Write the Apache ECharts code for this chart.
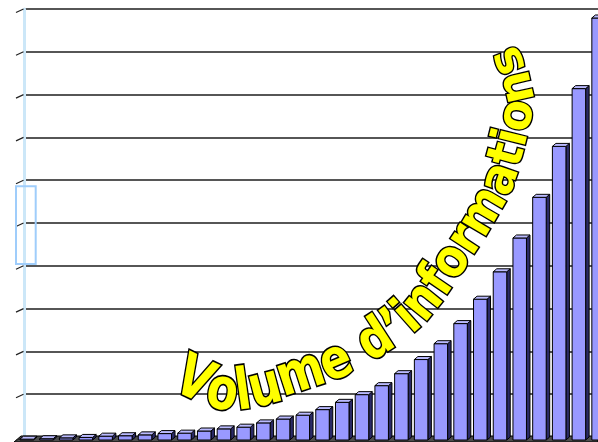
<!DOCTYPE html>
<html>
<head>
<meta charset="utf-8">
<script src="https://cdn.jsdelivr.net/npm/echarts@6/dist/echarts.min.js"></script>
<style>
  html, body { margin: 0; padding: 0; background: #ffffff; }
  #chart { width: 598px; height: 442px; }
</style>
</head>
<body>
<div id="chart"></div>
<script>
// Thirty successive periods (unlabelled on the chart)
const periods = ['1', '2', '3', '4', '5', '6', '7', '8', '9', '10',
                 '11', '12', '13', '14', '15', '16', '17', '18', '19', '20',
                 '21', '22', '23', '24', '25', '26', '27', '28', '29', '30'];

// Volume of information per period
const volumes = [0.2, 0.3, 0.5, 0.6, 0.9, 1.0, 1.2, 1.5, 1.6, 2.1,
                 2.6, 3.0, 4.0, 4.9, 5.8, 7.1, 8.8, 10.6, 12.7, 15.5,
                 18.8, 22.5, 27.2, 32.9, 39.3, 47.2, 56.7, 68.6, 82.1, 98.6];

// Value-axis ticks (no labels are drawn)
const yTicks = [0, 10, 20, 30, 40, 50, 60, 70, 80, 90, 100];

const title = 'Volume d\u2019informations';

// ---- Layout ----
const chartWidth = 598;
const columnsLeft = 17.1;     // left edge of the first column slot
const columnPitch = 19.72;    // width of one column slot; the last column runs off the right edge
const xMax = -0.5 + (chartWidth - columnsLeft) / columnPitch;

// ---- Arched title: characters laid out along a smooth curve ----
const titleSize = 44;
const titleFont = 'bold ' + titleSize + 'px "DejaVu Sans", Verdana, sans-serif';
const titleCurve = [[176, 379], [222, 398], [264, 394], [297, 381], [336, 368],
                    [376, 347], [420, 313], [461, 256], [490, 210], [506, 178],
                    [523, 111], [522, 85], [511, 55]];

function sampleCurve(pts, steps) {
  const out = [];
  const n = pts.length;
  for (let i = 0; i < n - 1; i++) {
    const p0 = pts[Math.max(i - 1, 0)], p1 = pts[i], p2 = pts[i + 1], p3 = pts[Math.min(i + 2, n - 1)];
    for (let k = 0; k < steps; k++) {
      const t = k / steps, t2 = t * t, t3 = t2 * t;
      const f = (a, b, c, d) => 0.5 * ((2 * b) + (-a + c) * t + (2 * a - 5 * b + 4 * c - d) * t2 + (-a + 3 * b - 3 * c + d) * t3);
      out.push([f(p0[0], p1[0], p2[0], p3[0]), f(p0[1], p1[1], p2[1], p3[1])]);
    }
  }
  out.push(pts[n - 1]);
  return out;
}

function buildTitle() {
  const poly = sampleCurve(titleCurve, 40);
  const cum = [0];
  for (let i = 1; i < poly.length; i++) {
    cum.push(cum[i - 1] + Math.hypot(poly[i][0] - poly[i - 1][0], poly[i][1] - poly[i - 1][1]));
  }
  const total = cum[cum.length - 1];
  function at(s) {
    if (s >= total) {
      const a = poly[poly.length - 2], b = poly[poly.length - 1];
      const th = Math.atan2(b[1] - a[1], b[0] - a[0]);
      const e = s - total;
      return { p: [b[0] + Math.cos(th) * e, b[1] + Math.sin(th) * e], th: th };
    }
    let i = 1;
    while (i < cum.length - 1 && cum[i] < s) i++;
    const a = poly[i - 1], b = poly[i];
    const seg = cum[i] - cum[i - 1] || 1;
    const u = (s - cum[i - 1]) / seg;
    return { p: [a[0] + (b[0] - a[0]) * u, a[1] + (b[1] - a[1]) * u], th: Math.atan2(b[1] - a[1], b[0] - a[0]) };
  }
  const ctx = document.createElement('canvas').getContext('2d');
  ctx.font = titleFont;
  const full = ctx.measureText(title).width;
  const items = [];
  let s = 0;
  for (const ch of title) {
    const w = ctx.measureText(ch).width;
    if (ch !== ' ') {
      const r = at(s + w / 2);
      // glyphs are stretched taller at the start of the arch
      const stretch = 1.34 - 0.28 * ((s + w / 2) / full);
      const lift = 0.073 * titleSize * stretch;
      const up = [Math.sin(r.th), -Math.cos(r.th)];
      items.push({
        type: 'text',
        x: r.p[0] + up[0] * lift,
        y: r.p[1] + up[1] * lift,
        rotation: -r.th,
        scaleX: 1.03,
        scaleY: stretch,
        z: 100,
        style: {
          text: ch,
          font: titleFont,
          fill: '#ffff00',
          stroke: '#000000',
          lineWidth: 2.6,
          lineJoin: 'round',
          align: 'center',
          verticalAlign: 'middle'
        }
      });
    }
    s += w;
  }
  return items;
}

// ---- 3D-looking columns ----
function renderColumn(params, api) {
  const v = api.value(1);
  const top = api.coord([api.value(0), v]);
  const base = api.coord([api.value(0), 0]);
  const band = api.size([1, 0])[0];
  const w = band * 0.685;
  const dx = 3.5, dy = 3;
  const xl = top[0] - 7, xr = xl + w;
  const yt = top[1] + dy, yb = base[1] + dy;
  const edge = { stroke: '#000000', lineWidth: 1 };
  return {
    type: 'group',
    children: [
      { type: 'polygon', shape: { points: [[xr, yt], [xr + dx, yt - dy], [xr + dx, yb - dy], [xr, yb]] },
        style: Object.assign({ fill: '#2a2a66' }, edge) },
      { type: 'rect', shape: { x: xl, y: yt, width: w, height: yb - yt },
        style: Object.assign({ fill: '#9999ff' }, edge) },
      { type: 'polygon', shape: { points: [[xl, yt], [xl + dx, yt - dy], [xr + dx, yt - dy], [xr, yt]] },
        style: Object.assign({ fill: '#babaff' }, edge) }
    ]
  };
}

// Slanted tick marks on the side wall
function renderTick(params, api) {
  const p = api.coord([0, api.value(1)]);
  return {
    type: 'line',
    shape: { x1: p[0] - 8, y1: p[1] + 3.5, x2: p[0] - 0.5, y2: p[1] },
    style: { stroke: '#222222', lineWidth: 1.2 }
  };
}

const chart = echarts.init(document.getElementById('chart'), null, { renderer: 'canvas' });

chart.setOption({
  animation: false,
  backgroundColor: '#ffffff',
  grid: [
    { left: 24, right: 0, top: 9, bottom: 5 },
    { left: columnsLeft, right: 0, top: 9, bottom: 5 }
  ],
  xAxis: [
    { gridIndex: 0, type: 'value', min: 0, max: 1, show: false },
    { gridIndex: 1, type: 'value', min: -0.5, max: xMax, show: false, splitLine: { show: false } }
  ],
  yAxis: [
    {
      gridIndex: 0, type: 'value', min: 0, max: 100, interval: 10,
      axisLine: { show: true, lineStyle: { color: '#cce7f8', width: 3 } },
      axisTick: { show: false },
      axisLabel: { show: false },
      splitLine: { show: true, lineStyle: { color: '#1e1e1e', width: 1.5 } }
    },
    { gridIndex: 1, type: 'value', min: 0, max: 100, interval: 10, show: false, splitLine: { show: false } }
  ],
  graphic: [
    {
      type: 'polygon', z: 1,
      shape: { points: [[14, 442], [21, 436], [598, 436], [598, 442]] },
      style: { fill: '#4d4d4d', stroke: '#000000', lineWidth: 1 }
    },
    {
      type: 'rect', z: 10,
      shape: { x: 16, y: 186.3, width: 19.7, height: 77.7 },
      style: { fill: 'none', stroke: '#9fcdfb', lineWidth: 2 }
    }
  ].concat(buildTitle()),
  series: [
    {
      type: 'custom', xAxisIndex: 0, yAxisIndex: 0,
      renderItem: renderTick,
      data: yTicks.map(v => [0, v]),
      silent: true, z: 3
    },
    {
      type: 'custom', name: 'Volume', xAxisIndex: 1, yAxisIndex: 1,
      renderItem: renderColumn,
      data: volumes.map((v, i) => [i, v, periods[i]]),
      encode: { x: 0, y: 1 },
      silent: true, z: 5
    }
  ]
});
</script>
</body>
</html>
